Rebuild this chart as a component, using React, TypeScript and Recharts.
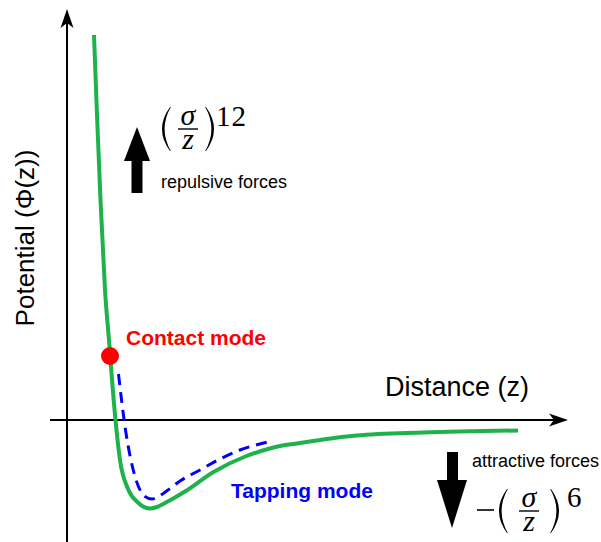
import { ComposedChart, Line, Scatter, XAxis, YAxis, ReferenceLine } from 'recharts'

// Lennard-Jones style potential (arbitrary units)
const potentialZ = [0.54, 0.6, 0.67, 0.76, 0.85, 0.88, 0.97, 1.06, 1.23, 1.43, 1.52, 1.66, 1.8, 1.96, 2.36, 2.93, 3.59, 4.02, 4.26, 4.66, 5.12, 5.79, 7.12, 9.02]
const potentialPhi = [7.7, 6.1, 4.4, 2.6, 1.47, 1.07, 0, -0.8, -1.4, -1.66, -1.73, -1.77, -1.74, -1.66, -1.43, -1.04, -0.72, -0.58, -0.52, -0.46, -0.39, -0.31, -0.25, -0.21]

// tapping mode path (dashed)
const tappingZ = [1.03, 1.16, 1.36, 1.56, 1.7, 1.83, 2.02, 2.26, 2.66, 3.06, 3.46, 4.02]
const tappingPhi = [0.92, -0.13, -1.13, -1.53, -1.58, -1.53, -1.4, -1.22, -1.0, -0.78, -0.6, -0.44]

// contact mode point
const contactZ = [0.86]
const contactPhi = [1.28]

const potentialData = potentialZ.map((z, i) => ({ z, phi: potentialPhi[i] }))
const tappingData = tappingZ.map((z, i) => ({ z, phi: tappingPhi[i] }))
const contactData = contactZ.map((z, i) => ({ z, phi: contactPhi[i] }))

const SANS = 'Liberation Sans, Arial, Helvetica, sans-serif'
const SERIF = 'Liberation Serif, "DejaVu Serif", Times, serif'
const GREEN = '#1fb24c'

const AxisArrow = (props: any) => {
  const { x1, y1, x2, y2 } = props
  const dx = x2 - x1
  const dy = y2 - y1
  const len = Math.hypot(dx, dy) || 1
  const ux = dx / len
  const uy = dy / len
  const px = -uy
  const py = ux
  const L = 19
  const W = 6.5
  const N = 14
  const bx = x2 - ux * L
  const by = y2 - uy * L
  const nx = x2 - ux * N
  const ny = y2 - uy * N
  return (
    <g>
      <line x1={x1} y1={y1} x2={nx} y2={ny} stroke="#000" strokeWidth={2} />
      <polygon
        points={`${x2},${y2} ${bx + px * W},${by + py * W} ${nx},${ny} ${bx - px * W},${by - py * W}`}
        fill="#000"
      />
    </g>
  )
}

// crescent-shaped bracket, dir -1 for "(" and 1 for ")"
function paren(xe: number, top: number, bottom: number, w: number, dir: number) {
  const mid = (top + bottom) / 2
  const t = 2.2
  const cx = xe + dir * 2 * w
  const cxIn = xe + dir * (2 * w - 2 * t)
  return `M${xe},${top} Q${cx},${mid} ${xe},${bottom} L${xe - dir * 0.8},${bottom} Q${cxIn},${mid} ${xe - dir * 0.8},${top} Z`
}

function Fraction({ cx, bar }: { cx: number; bar: number }) {
  return (
    <g fill="#000">
      <text fontFamily={SERIF} fontStyle="italic" fontSize={30} textAnchor="middle">
        <tspan x={cx} y={bar - 4}>σ</tspan>
        <tspan x={cx} y={bar + 20}>z</tspan>
      </text>
      <line x1={cx - 10} x2={cx + 10} y1={bar} y2={bar} stroke="#000" strokeWidth={1.4} />
    </g>
  )
}

function Annotations() {
  return (
    <svg width={601} height={542} style={{ position: 'absolute', left: 0, top: 0, pointerEvents: 'none' }}>
      <text
        transform="translate(34,238) rotate(-90)"
        textAnchor="middle"
        fontFamily={SANS}
        fontSize={26}
        fill="#000"
      >
        Potential (Φ(z))
      </text>
      <text x={385} y={396} fontFamily={SANS} fontSize={27} fill="#000">Distance (z)</text>
      <text x={126} y={345} fontFamily={SANS} fontSize={21} fontWeight="bold" fill="#ff0000">Contact mode</text>
      <text x={231} y={498} fontFamily={SANS} fontSize={21} fontWeight="bold" fill="#0000ff">Tapping mode</text>
      <text x={161} y={188} fontFamily={SANS} fontSize={18} fill="#000">repulsive forces</text>
      <text x={472} y={467} fontFamily={SANS} fontSize={18} fill="#000">attractive forces</text>

      {/* repulsive arrow */}
      <polygon points="137,127 150,161 142.5,161 142.5,193 131.5,193 131.5,161 124,161" fill="#000" />
      {/* attractive arrow */}
      <polygon points="447,452 458,452 458,480 467,480 452,528 437,480 447,480" fill="#000" />

      {/* (σ/z)^12 */}
      <path d={paren(170, 107, 151, 8, -1)} fill="#000" />
      <Fraction cx={188} bar={129} />
      <path d={paren(206, 107, 151, 8, 1)} fill="#000" />
      <text x={216} y={126} fontFamily={SERIF} fontSize={29} letterSpacing={1} fill="#000">12</text>

      {/* -(σ/z)^6 */}
      <line x1={477} x2={494} y1={510} y2={510} stroke="#000" strokeWidth={1.6} />
      <path d={paren(507, 489, 533, 8, -1)} fill="#000" />
      <Fraction cx={529} bar={511} />
      <path d={paren(551, 489, 533, 8, 1)} fill="#000" />
      <text x={567} y={507} fontFamily={SERIF} fontSize={29} fill="#000">6</text>
    </svg>
  )
}

export default function App() {
  return (
    <div style={{ position: 'absolute', left: 0, top: 0, width: 601, height: 542, background: '#fff' }}>
      <ComposedChart width={601} height={542} margin={{ top: 0, right: 0, bottom: 0, left: 0 }}>
        <XAxis type="number" dataKey="z" domain={[-1.34, 10.68]} hide />
        <YAxis type="number" dataKey="phi" domain={[-2.44, 8.4]} hide />
        <ReferenceLine
          segment={[{ x: 0, y: -2.44 }, { x: 0, y: 8.22 }]}
          ifOverflow="visible"
          shape={AxisArrow}
        />
        <ReferenceLine
          segment={[{ x: -0.34, y: 0 }, { x: 10.02, y: 0 }]}
          ifOverflow="visible"
          shape={AxisArrow}
        />
        <Line
          data={potentialData}
          dataKey="phi"
          type="monotoneX"
          stroke={GREEN}
          strokeWidth={4}
          strokeLinecap="butt"
          dot={false}
          activeDot={false}
          isAnimationActive={false}
        />
        <Line
          data={tappingData}
          dataKey="phi"
          type="monotone"
          stroke="#0000ff"
          strokeWidth={3}
          strokeDasharray="11 7"
          dot={false}
          activeDot={false}
          isAnimationActive={false}
        />
        <Scatter
          data={contactData}
          dataKey="phi"
          fill="#ff0000"
          isAnimationActive={false}
          shape={(p: any) => <circle cx={p.cx} cy={p.cy} r={9} fill="#ff0000" />}
        />
      </ComposedChart>
      <Annotations />
    </div>
  )
}
